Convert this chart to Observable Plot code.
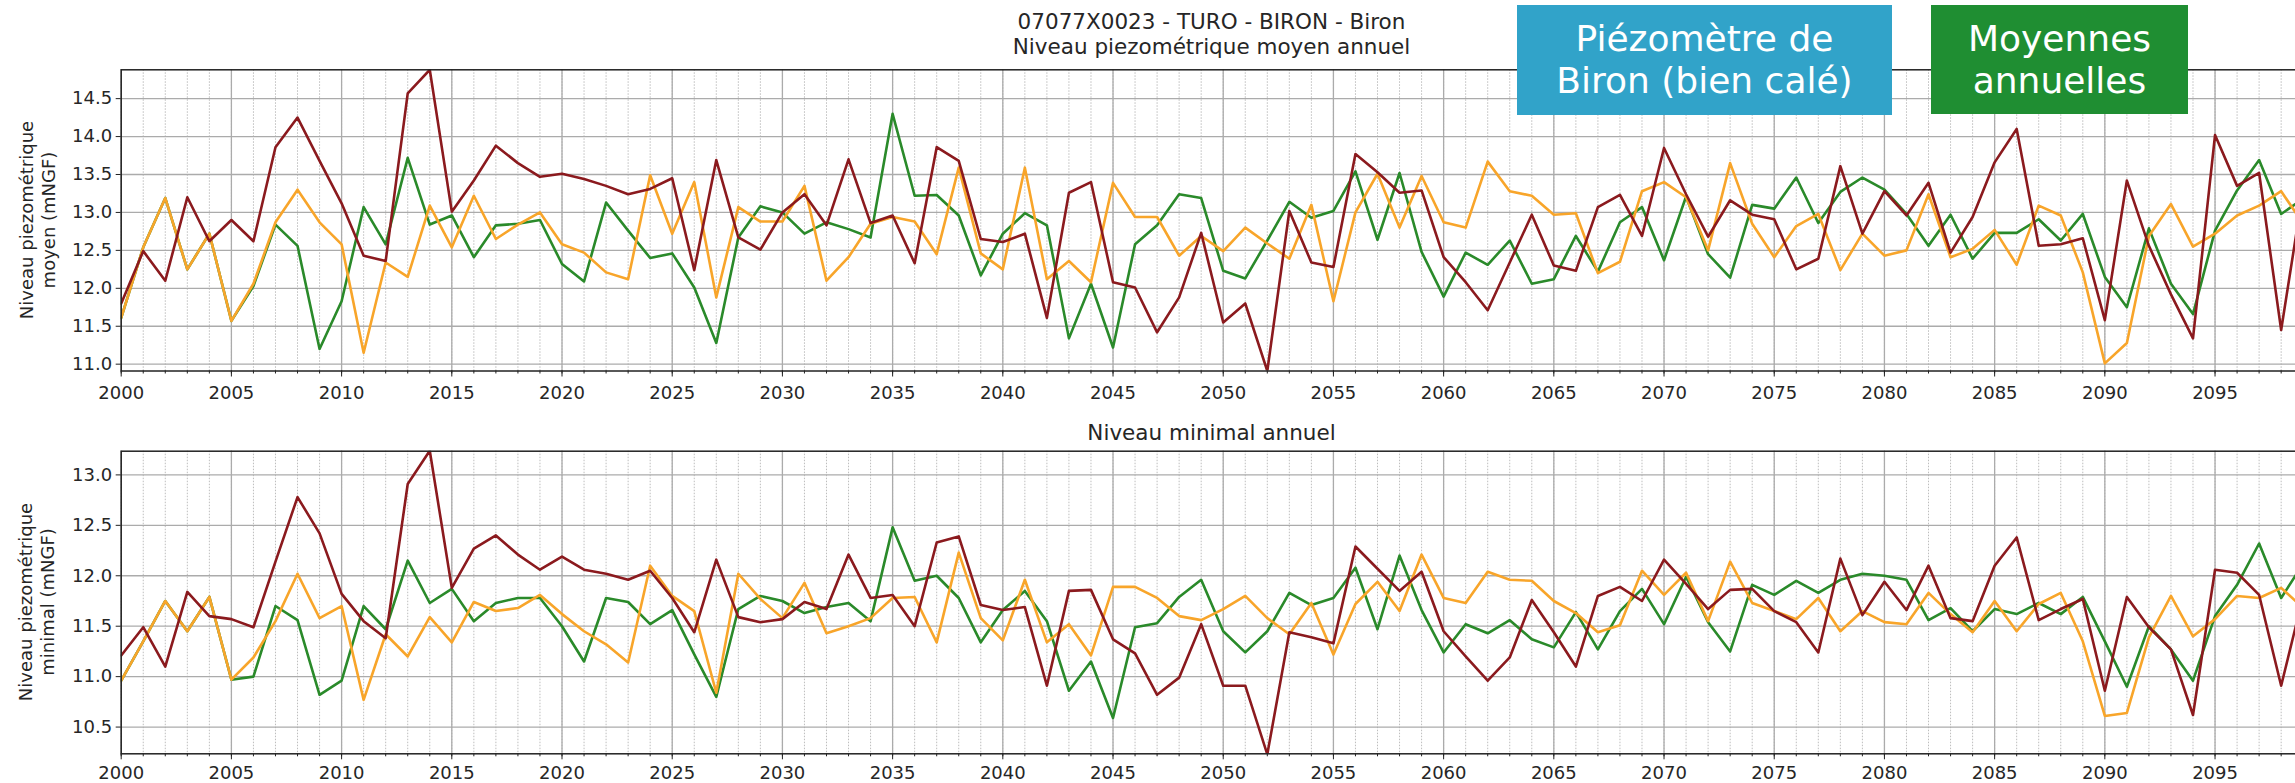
<!DOCTYPE html>
<html><head><meta charset="utf-8">
<script src="https://cdn.jsdelivr.net/npm/d3@7"></script>
<script src="https://cdn.jsdelivr.net/npm/@observablehq/plot@0.6"></script>
<style>
html,body{margin:0;padding:0;background:#fff;overflow:hidden;width:2295px;height:783px;}
#root{position:relative;width:2295px;height:783px;overflow:hidden;font-family:"DejaVu Sans",sans-serif;color:#262626;}
#root svg{position:absolute;left:0;max-width:none !important;}
.ttl{position:absolute;left:0;width:2423px;text-align:center;font-size:21.5px;line-height:25px;white-space:pre;}
.ylab{position:absolute;font-size:18px;line-height:22px;text-align:center;white-space:pre;transform:translate(-50%,-50%) rotate(-90deg);}
.box{position:absolute;color:#fff;font-family:"DejaVu Sans",sans-serif;font-size:36px;line-height:42px;text-align:center;display:flex;align-items:center;justify-content:center;white-space:pre;}
</style></head><body><div id="root"></div><script>
const years = [2000,2001,2002,2003,2004,2005,2006,2007,2008,2009,2010,2011,2012,2013,2014,2015,2016,2017,2018,2019,
2020,2021,2022,2023,2024,2025,2026,2027,2028,2029,2030,2031,2032,2033,2034,2035,2036,2037,2038,2039,
2040,2041,2042,2043,2044,2045,2046,2047,2048,2049,2050,2051,2052,2053,2054,2055,2056,2057,2058,2059,
2060,2061,2062,2063,2064,2065,2066,2067,2068,2069,2070,2071,2072,2073,2074,2075,2076,2077,2078,2079,
2080,2081,2082,2083,2084,2085,2086,2087,2088,2089,2090,2091,2092,2093,2094,2095,2096,2097,2098,2099];
const majorYears = [2000,2005,2010,2015,2020,2025,2030,2035,2040,2045,2050,2055,2060,2065,2070,2075,2080,2085,2090,2095];
const yTicksMoyen = [11.0,11.5,12.0,12.5,13.0,13.5,14.0,14.5];
const yTicksMin = [10.5,11.0,11.5,12.0,12.5,13.0];

// Niveau moyen annuel
const moyenGreen = [11.61,12.54,13.19,12.25,12.72,11.57,12.03,12.84,12.56,11.20,11.83,13.07,12.58,13.72,12.84,12.96,12.41,12.83,12.85,12.90,
12.32,12.09,13.13,12.76,12.40,12.46,12.01,11.28,12.67,13.08,13.00,12.72,12.87,12.78,12.67,14.30,13.22,13.23,12.96,12.17,
12.72,12.99,12.83,11.34,12.06,11.22,12.58,12.83,13.24,13.19,12.23,12.13,12.63,13.14,12.93,13.02,13.54,12.64,13.52,12.48,
11.89,12.47,12.31,12.63,12.06,12.12,12.69,12.22,12.87,13.07,12.37,13.21,12.45,12.14,13.10,13.05,13.46,12.86,13.27,13.46,
13.30,12.98,12.56,12.97,12.39,12.73,12.73,12.91,12.63,12.98,12.15,11.75,12.79,12.06,11.66,12.76,13.29,13.69,12.98,13.18];
const moyenOrange = [11.61,12.54,13.19,12.25,12.72,11.57,12.06,12.87,13.30,12.87,12.58,11.15,12.34,12.15,13.09,12.54,13.22,12.65,12.84,13.00,
12.58,12.47,12.21,12.12,13.49,12.72,13.40,11.88,13.07,12.88,12.88,13.35,12.10,12.41,12.85,12.94,12.88,12.45,13.59,12.46,
12.25,13.59,12.12,12.36,12.08,13.39,12.94,12.94,12.43,12.69,12.49,12.80,12.59,12.39,13.10,11.83,13.00,13.51,12.80,13.48,
12.87,12.80,13.67,13.28,13.22,12.97,12.99,12.20,12.35,13.28,13.40,13.20,12.50,13.65,12.85,12.41,12.82,12.98,12.24,12.72,
12.43,12.50,13.24,12.41,12.52,12.77,12.31,13.09,12.96,12.21,11.01,11.28,12.69,13.11,12.55,12.72,12.96,13.09,13.28,12.85];
const moyenRed = [11.80,12.49,12.10,13.20,12.62,12.90,12.62,13.86,14.25,13.68,13.12,12.43,12.36,14.57,14.88,13.01,13.42,13.88,13.65,13.47,
13.51,13.44,13.35,13.24,13.31,13.45,12.24,13.69,12.67,12.51,13.00,13.24,12.83,13.70,12.86,12.96,12.33,13.86,13.68,12.65,
12.61,12.72,11.61,13.26,13.40,12.08,12.01,11.42,11.88,12.73,11.55,11.80,10.91,13.02,12.34,12.28,13.77,13.53,13.26,13.29,
12.41,12.08,11.71,12.34,12.97,12.30,12.23,13.07,13.23,12.69,13.85,13.24,12.68,13.16,12.97,12.91,12.25,12.39,13.61,12.72,
13.28,12.96,13.39,12.47,12.94,13.66,14.10,12.56,12.58,12.66,11.58,13.42,12.56,11.92,11.34,14.02,13.35,13.52,11.45,13.30];

// Niveau minimal annuel
const minGreen = [10.96,11.35,11.75,11.45,11.79,10.97,11.00,11.70,11.56,10.82,10.96,11.70,11.47,12.15,11.73,11.87,11.55,11.73,11.78,11.78,
11.50,11.15,11.78,11.74,11.52,11.66,11.22,10.80,11.67,11.80,11.75,11.63,11.69,11.73,11.55,12.48,11.95,12.00,11.78,11.34,
11.66,11.85,11.55,10.86,11.15,10.59,11.49,11.53,11.79,11.96,11.45,11.24,11.45,11.83,11.71,11.78,12.08,11.47,12.20,11.66,
11.24,11.52,11.43,11.56,11.37,11.29,11.64,11.27,11.65,11.87,11.52,11.99,11.54,11.25,11.91,11.81,11.95,11.83,11.96,12.02,
12.00,11.96,11.56,11.68,11.45,11.67,11.62,11.73,11.62,11.79,11.35,10.90,11.50,11.27,10.96,11.60,11.91,12.32,11.78,12.12];
const minOrange = [10.96,11.35,11.75,11.45,11.79,10.97,11.19,11.55,12.02,11.58,11.70,10.77,11.42,11.20,11.59,11.34,11.74,11.65,11.68,11.81,
11.62,11.45,11.32,11.14,12.10,11.80,11.65,10.84,12.02,11.77,11.58,11.93,11.43,11.50,11.58,11.78,11.79,11.34,12.23,11.58,
11.36,11.96,11.34,11.52,11.21,11.89,11.89,11.78,11.60,11.56,11.67,11.80,11.58,11.42,11.73,11.22,11.72,11.94,11.65,12.21,
11.78,11.73,12.04,11.96,11.95,11.75,11.63,11.44,11.51,12.05,11.81,12.03,11.55,12.14,11.73,11.65,11.57,11.78,11.45,11.65,
11.54,11.52,11.83,11.62,11.44,11.75,11.45,11.72,11.83,11.35,10.61,10.64,11.39,11.80,11.40,11.57,11.80,11.78,11.88,11.68];
const minRed = [11.21,11.49,11.10,11.84,11.60,11.57,11.49,12.14,12.78,12.42,11.82,11.55,11.38,12.91,13.24,11.88,12.27,12.40,12.21,12.06,
12.19,12.06,12.02,11.96,12.05,11.78,11.44,12.16,11.59,11.54,11.57,11.74,11.67,12.21,11.78,11.81,11.50,12.33,12.39,11.71,
11.66,11.69,10.91,11.85,11.86,11.37,11.23,10.82,10.99,11.52,10.91,10.91,10.23,11.44,11.39,11.33,12.29,12.07,11.85,12.04,
11.45,11.20,10.96,11.19,11.76,11.44,11.10,11.80,11.89,11.75,12.16,11.92,11.67,11.86,11.87,11.65,11.54,11.24,12.17,11.61,
11.94,11.66,12.10,11.58,11.55,12.10,12.38,11.56,11.67,11.77,10.86,11.79,11.49,11.27,10.62,12.06,12.03,11.81,10.91,11.80];

const colors = {green: "#2a8a2a", orange: "#f8a52a", red: "#8b1a1e"};

function panel(g, o, r, yDomain, yTicks, h, mt, mb, xPad) {
  const series = [[g, colors.green], [o, colors.orange], [r, colors.red]];
  return Plot.plot({
    width: 2310, height: h,
    marginLeft: 120.7, marginRight: 7.3, marginTop: mt, marginBottom: mb,
    x: {domain: [2000, 2099]},
    y: {domain: yDomain},
    style: {fontFamily: "DejaVu Sans, sans-serif", fontSize: "18px", color: "#262626", background: "transparent"},
    marks: [
      Plot.ruleX(years, {stroke: "#bdbdbd", strokeWidth: 1, strokeDasharray: "1.5,1.5"}),
      Plot.ruleX(majorYears, {stroke: "#ababab", strokeWidth: 1.3}),
      Plot.ruleY(yTicks, {stroke: "#ababab", strokeWidth: 1.3}),
      ...series.map(([vals, c]) => Plot.line(vals, {x: years, y: vals, stroke: c, strokeWidth: 2.6, clip: true})),
      Plot.frame({stroke: "#222", strokeWidth: 1.5}),
      Plot.axisX(years, {tickSize: 3, tickFormat: () => "", stroke: "#222"}),
      Plot.axisX(majorYears, {tickSize: 6, tickPadding: xPad, tickFormat: d => String(d), stroke: "#222", label: null}),
      Plot.axisY(yTicks, {tickSize: 5, tickPadding: 4, tickFormat: d3.format(".1f"), stroke: "#222", label: null})
    ]
  });
}

const root = document.getElementById("root");
const svg1 = panel(moyenGreen, moyenOrange, moyenRed, [10.91, 14.88], yTicksMoyen, 405, 69.3, 34.5, 9);
svg1.style.top = "0px";
root.appendChild(svg1);
const svg2 = panel(minGreen, minOrange, minRed, [10.235, 13.235], yTicksMin, 378, 45.7, 29.7, 6.5);
svg2.style.top = "405px";
root.appendChild(svg2);

function addDiv(cls, text, css) {
  const d = document.createElement("div");
  d.className = cls; d.textContent = text;
  Object.assign(d.style, css);
  root.appendChild(d);
  return d;
}
addDiv("ttl", "07077X0023 - TURO - BIRON - Biron\nNiveau piezométrique moyen annuel", {top: "9px"});
addDiv("ttl", "Niveau minimal annuel", {top: "419.5px"});
addDiv("ylab", "Niveau piezométrique\nmoyen (mNGF)", {left: "38px", top: "219.7px"});
addDiv("ylab", "Niveau piezométrique\nminimal (mNGF)", {left: "37px", top: "602px"});
addDiv("box", "Piézomètre de\nBiron (bien calé)", {left: "1517px", top: "5px", width: "375px", height: "110px", background: "#31a3c9"});
addDiv("box", "Moyennes\nannuelles", {left: "1931px", top: "5px", width: "257px", height: "109px", background: "#1f8e32"});
</script></body></html>
